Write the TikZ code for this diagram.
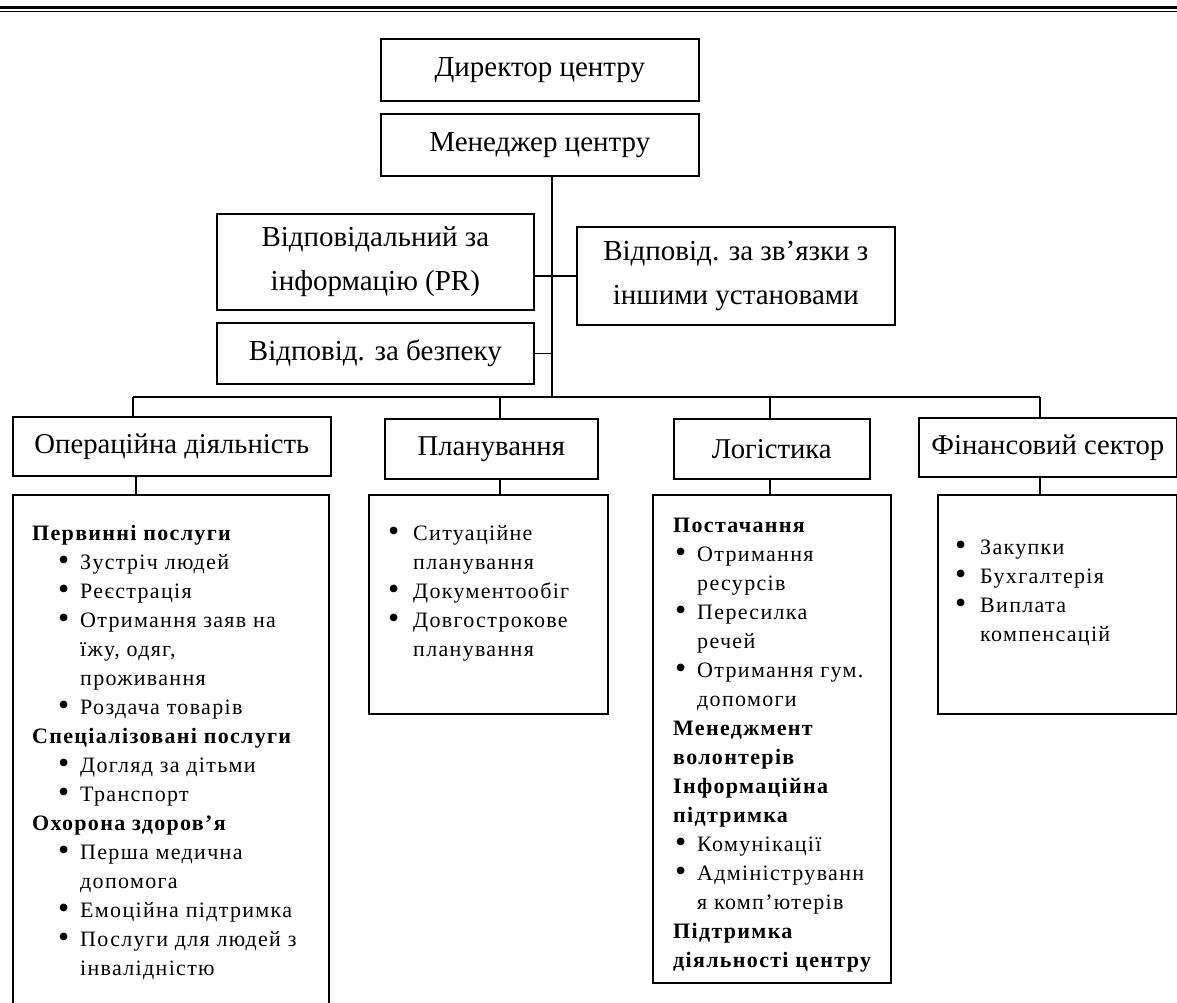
\documentclass[tikz,border=0pt]{standalone}
\usepackage{fontspec}
\usepackage{graphicx}
\setmainfont{Liberation Serif}
\newfontfamily\listfont[LetterSpace=6]{Liberation Serif}
\newcommand\bigbul{\raisebox{-1.2pt}{\scalebox{1.45}{•}}}
\newcommand\bulat[2]{\makebox[#2][l]{\hspace*{#1}\bigbul}}
\newcommand\contat[1]{\hspace*{#1}}
\begin{document}
\begin{tikzpicture}[x=1pt,y=-1pt,
  box/.style={draw, line width=1.7pt, inner sep=0pt, anchor=north west, align=center},
  big/.style={font=\fontsize{29}{44}\selectfont},
  mid/.style={font=\fontsize{28.7}{40}\selectfont},
  lst/.style={font=\listfont\fontsize{22}{29}\selectfont, inner sep=0pt, anchor=base west},
  wire/.style={line width=1.7pt}]
\useasboundingbox (0,0) rectangle (1177,1003);
\clip (0,0) rectangle (1177,1003);
% top rule
\draw[line width=2.2pt] (0,7.5) -- (1177,7.5);
\draw[line width=1.2pt] (0,11.5) -- (1177,11.5);
% level 1
\node[box,big,minimum width=318pt,minimum height=62pt] (dir) at (380,38) {Директор центру};
\node[box,big,minimum width=318pt,minimum height=62pt] (mgr) at (380,113) {Менеджер центру};
\node[box,big,minimum width=317pt,minimum height=96pt] (pr) at (216,213) {Відповідальний за\\інформацію (PR)};
\node[box,big,minimum width=318pt,minimum height=98pt] (rel) at (576,226) {Відповід. за зв’язки з\\іншими установами};
\node[box,big,minimum width=317pt,minimum height=61pt] (sf) at (216,322) {Відповід. за безпеку};
% level 2
\node[box,mid,minimum width=318pt,minimum height=59pt] (ops) at (12,416) {Операційна діяльність};
\node[box,mid,minimum width=213pt,minimum height=60pt] (plan) at (384,418) {Планування};
\node[box,mid,minimum width=196pt,minimum height=60pt] (log) at (673,418) {Логістика};
\node[box,mid,minimum width=258pt,minimum height=59pt] (fin) at (918,417) {Фінансовий сектор};
% level 3 frames
\node[box,minimum width=316pt,minimum height=540pt] (opsL) at (12,494) {};
\node[box,minimum width=239pt,minimum height=219pt] (planL) at (368,494) {};
\node[box,minimum width=238pt,minimum height=488pt] (logL) at (652,494) {};
\node[box,minimum width=239pt,minimum height=219pt] (finL) at (937,494) {};
% connectors
\coordinate (bus) at (552,397);
\coordinate (b1) at (133,397);
\coordinate (b2) at (500,397);
\coordinate (b3) at (770,397);
\coordinate (b4) at (1040,397);
\coordinate (k1) at (136,0);
\coordinate (k2) at (500,0);
\coordinate (k3) at (770,0);
\coordinate (k4) at (1040,0);
\draw[wire] (mgr.south -| bus) -- (bus);
\draw[wire] (pr.east |- rel.west) -- (rel.west);
\draw[wire] (sf.east) -- (sf.east -| bus);
\draw[wire] (b1) -- (b4);
\draw[wire] (b1) -- (b1 |- ops.north);
\draw[wire] (b2) -- (b2 |- plan.north);
\draw[wire] (b3) -- (b3 |- log.north);
\draw[wire] (b4) -- (b4 |- fin.north);
\draw[wire] (ops.south -| k1) -- (opsL.north -| k1);
\draw[wire] (plan.south -| k2) -- (planL.north -| k2);
\draw[wire] (log.south -| k3) -- (logL.north -| k3);
\draw[wire] (fin.south -| k4) -- (finL.north -| k4);
% lists
\node[lst] (opsT) at (32,540) {\begin{tabular}[t]{@{}l@{}}
\textbf{Первинні послуги}\\
\bulat{26pt}{48pt}Зустріч людей\\
\bulat{26pt}{48pt}Реєстрація\\
\bulat{26pt}{48pt}Отримання заяв на\\
\contat{48pt}їжу, одяг,\\
\contat{48pt}проживання\\
\bulat{26pt}{48pt}Роздача товарів\\
\textbf{Спеціалізовані послуги}\\
\bulat{26pt}{48pt}Догляд за дітьми\\
\bulat{26pt}{48pt}Транспорт\\
\textbf{Охорона здоров’я}\\
\bulat{26pt}{48pt}Перша медична\\
\contat{48pt}допомога\\
\bulat{26pt}{48pt}Емоційна підтримка\\
\bulat{26pt}{48pt}Послуги для людей з\\
\contat{48pt}інвалідністю
\end{tabular}};
\node[lst] (planT) at (388,540) {\begin{tabular}[t]{@{}l@{}}
\bulat{0pt}{25pt}Ситуаційне\\
\contat{25pt}планування\\
\bulat{0pt}{25pt}Документообіг\\
\bulat{0pt}{25pt}Довгострокове\\
\contat{25pt}планування
\end{tabular}};
\node[lst] (logT) at (673,532) {\begin{tabular}[t]{@{}l@{}}
\textbf{Постачання}\\
\bulat{2pt}{24pt}Отримання\\
\contat{24pt}ресурсів\\
\bulat{2pt}{24pt}Пересилка\\
\contat{24pt}речей\\
\bulat{2pt}{24pt}Отримання гум.\\
\contat{24pt}допомоги\\
\textbf{Менеджмент}\\
\textbf{волонтерів}\\
\textbf{Інформаційна}\\
\textbf{підтримка}\\
\bulat{2pt}{24pt}Комунікації\\
\bulat{2pt}{24pt}Адмініструванн\\
\contat{24pt}я комп’ютерів\\
\textbf{Підтримка}\\
\textbf{діяльності центру}
\end{tabular}};
\node[lst] (finT) at (955,554) {\begin{tabular}[t]{@{}l@{}}
\bulat{0pt}{25pt}Закупки\\
\bulat{0pt}{25pt}Бухгалтерія\\
\bulat{0pt}{25pt}Виплата\\
\contat{25pt}компенсацій
\end{tabular}};
\end{tikzpicture}
\end{document}
